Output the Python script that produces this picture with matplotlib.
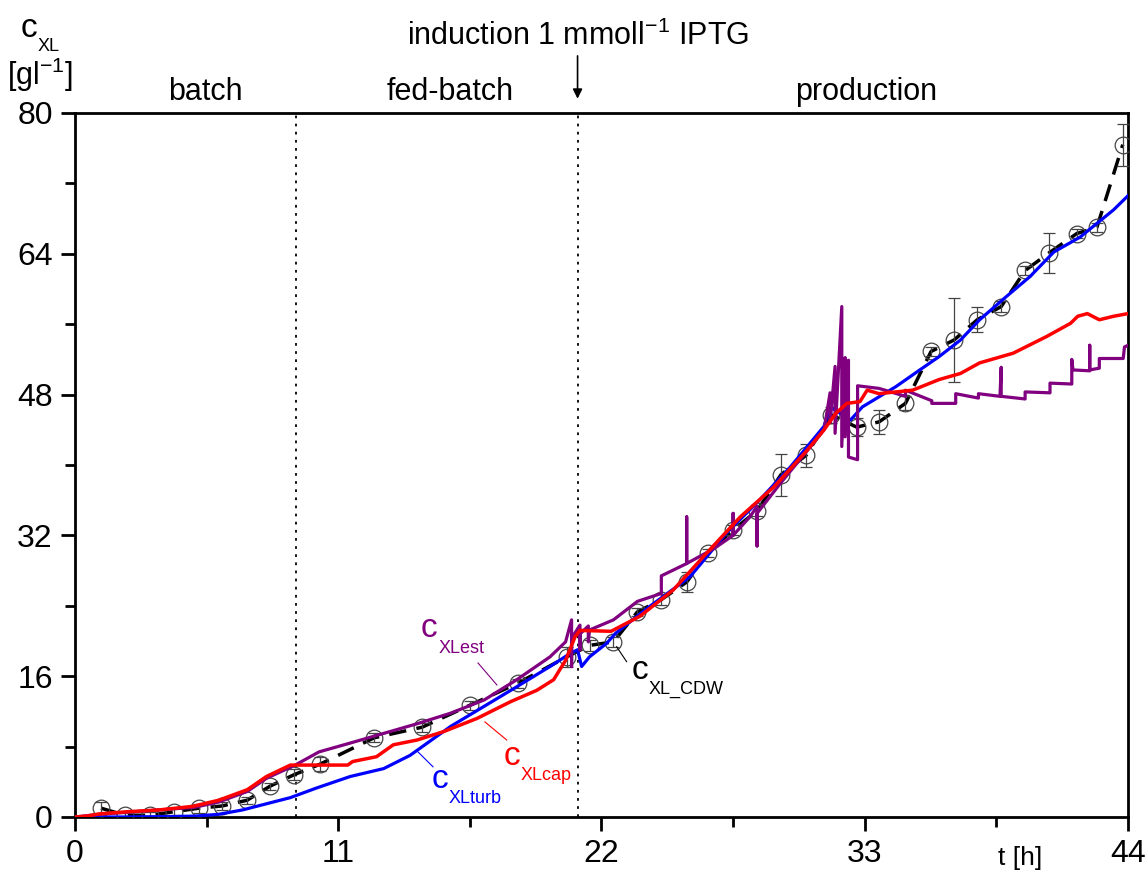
import numpy as np
import matplotlib
matplotlib.use("Agg")
import matplotlib.pyplot as plt
import matplotlib.transforms as mtransforms
from matplotlib import font_manager

names = {f.name for f in font_manager.fontManager.ttflist}
fam = "Liberation Sans Narrow" if "Liberation Sans Narrow" in names else "Liberation Sans"
plt.rcParams['font.family'] = [fam, 'DejaVu Sans']
plt.rcParams['mathtext.fontset'] = 'custom'
plt.rcParams['mathtext.rm'] = fam

# offline measured biomass (CDW) with error bars
t_cdw = [1.09, 2.09, 3.13, 4.14, 5.18, 6.14, 7.19, 8.15, 9.15, 10.24, 12.5, 14.5, 16.5, 18.5,
         20.55, 21.5, 22.5, 23.5, 24.5, 25.56, 26.45, 27.5, 28.5, 29.5, 30.55, 31.6, 32.66,
         33.6, 34.7, 35.77, 36.73, 37.7, 38.7, 39.7, 40.7, 41.86, 42.7, 43.78]
c_cdw = [1.0, 0.2, 0.2, 0.6, 1.0, 1.25, 1.9, 3.5, 4.8, 6.0, 9.0, 10.2, 12.7, 15.2,
         18.2, 19.5, 19.9, 23.3, 24.7, 26.7, 30.0, 32.6, 34.8, 38.9, 41.1, 45.7, 44.3,
         44.9, 47.0, 52.9, 54.2, 56.5, 58.0, 62.1, 64.1, 66.3, 67.0, 76.4]
err_cdw = [0.7, 0.3, 0.4, 0.4, 0.5, 0.4, 0.4, 0.4, 0.6, 0.8, 0.5, 0.5, 0.5, 0.5,
           1.1, 0.6, 0.6, 0.5, 0.6, 1.1, 0.5, 0.6, 0.6, 2.4, 1.3, 0.9, 1.0,
           1.4, 0.8, 0.5, 4.8, 1.4, 0.6, 0.5, 2.3, 0.5, 0.5, 2.4]

# turbidity based estimate
t_turb = [0, 2, 4, 5, 6, 7, 8, 9, 10.1, 11.5, 12.9, 14.0, 15.7, 17.05, 18.46, 19.85, 20.7, 21.0,
          21.17, 21.5, 22.2, 22.6, 24.0, 25.7, 27.2, 28.6, 29.9, 31.3, 31.55, 31.9, 32.4, 32.9,
          34.3, 35.3, 36.1, 37.0, 37.8, 38.9, 39.9, 40.9, 42.0, 43.4, 44.0]
c_turb = [0, 0, 0.05, 0.1, 0.3, 0.8, 1.5, 2.2, 3.3, 4.6, 5.5, 7.0, 10.3, 12.5, 14.8, 17.1, 18.6, 19.0,
          17.1, 18.2, 19.7, 20.9, 23.9, 27.3, 32.2, 36.0, 39.8, 44.4, 46.6, 46.0, 45.1, 46.6,
          48.9, 50.8, 52.3, 54.2, 56.5, 59.1, 61.4, 64.2, 65.9, 69.0, 70.6]

# capacitance based estimate
t_cap = [0, 0.5, 1.0, 2.2, 3.5, 4.9, 6.0, 7.2, 8.0, 9.0, 9.3, 11.4, 11.6, 12.6, 13.3, 14.3, 15.4,
         16.8, 18.2, 19.3, 20.0, 20.5, 20.9, 21.1, 22.4, 23.6, 25.0, 26.4, 27.8, 29.2, 30.6, 31.3,
         31.8, 32.25, 32.8, 33.1, 33.6, 35.0, 36.1, 37.0, 37.8, 39.2, 40.6, 41.6, 41.9, 42.3,
         42.8, 43.4, 44.0]
c_cap = [0, 0.1, 0.35, 0.6, 0.8, 1.2, 1.9, 3.1, 4.6, 5.9, 5.9, 5.9, 6.3, 6.85, 8.2, 8.75, 9.7,
         11.2, 13.1, 14.4, 15.6, 17.8, 20.5, 21.2, 21.1, 22.8, 25.8, 30.0, 34.1, 37.5, 41.7, 44.0,
         45.9, 47.0, 47.2, 48.5, 48.1, 48.5, 49.7, 50.4, 51.6, 52.7, 54.6, 56.1, 56.9, 57.2,
         56.5, 56.9, 57.2]

# model estimate
t_est = [0, 1, 3, 5, 6, 7.2, 8.0, 9.2, 10.2, 11.5, 12.9, 14.3, 15.7, 17.1, 18.46, 19.85, 20.5,
         20.75, 20.75, 20.75, 21.1, 21.1, 21.1, 21.45, 21.45, 21.5, 22.5, 23.5, 24.5, 24.5, 25.56,
         25.56, 25.56, 26.7, 27.5, 27.5, 27.5, 28.2, 28.5, 28.5, 28.5, 29.5, 30.5, 31.3,
         31.55, 31.55, 31.76, 31.76, 32.04, 32.04, 32.18, 32.18, 32.32, 32.32, 32.7, 32.7, 32.7,
         33.6, 34.7, 34.7, 35.8, 35.8, 36.8, 36.8, 37.75, 37.75, 38.65, 38.7, 38.7, 39.7, 39.7,
         40.74, 40.74, 41.65, 41.65, 41.7, 41.7, 42.4, 42.4, 42.4, 42.8, 42.8, 43.8, 43.85, 44.0]
c_est = [0, 0.3, 0.7, 1.1, 1.7, 2.9, 4.4, 5.9, 7.4, 8.4, 9.5, 10.6, 11.8, 13.3, 15.6, 18.2, 19.9,
         22.4, 17.1, 20.3, 21.8, 19.0, 20.8, 21.7, 19.9, 21.25, 22.4, 24.5, 25.4, 27.4, 28.8,
         34.1, 28.8, 30.5, 32.0, 34.5, 32.0, 34.1, 35.3, 30.8, 34.5, 38.0, 41.3, 44.0,
         48.2, 44.8, 51.2, 43.6, 58.0, 42.1, 52.2, 43.2, 51.9, 40.9, 40.6, 49.0, 49.0,
         48.7, 47.8, 48.5, 47.3, 47.0, 47.0, 48.1, 47.6, 48.1, 47.8, 51.1, 47.8, 47.5, 48.3,
         48.2, 49.3, 49.2, 52.0, 50.8, 50.8, 50.7, 53.6, 50.8, 51.0, 52.1, 52.1, 53.4, 53.6]

fig = plt.figure(figsize=(11.48, 8.75), dpi=100)
ax = fig.add_axes([0.0653, 0.0663, 0.9173, 0.8046])

ax.plot(t_cdw, c_cdw, color='black', lw=2.5, dashes=(5, 3), zorder=2)
ax.errorbar(t_cdw, c_cdw, yerr=err_cdw, fmt='o', ms=12, mfc='none', mec='#444444', mew=0.9,
            ecolor='#444444', elinewidth=0.9, capsize=4.5, capthick=0.9, zorder=3)
ax.plot(t_turb, c_turb, color='#0000ff', lw=2.3, zorder=4)
ax.plot(t_est, c_est, color='#800080', lw=2.3, zorder=5)
ax.plot(t_cap, c_cap, color='#ff0000', lw=2.5, zorder=6)

for xv in [9.24, 21.0]:
    ax.axvline(xv, color='black', lw=1.3, ls=(0, (1.5, 3)), zorder=1)

ax.set_xlim(0, 44)
ax.set_ylim(0, 80)
ax.set_xticks([0, 11, 22, 33, 44])
ax.set_xticks([5.5, 16.5, 27.5, 38.5], minor=True)
ax.set_yticks([0, 16, 32, 48, 64, 80])
ax.set_yticks([8, 24, 40, 56, 72], minor=True)
ax.tick_params(which='major', direction='out', length=10, width=2, labelsize=23, pad=6)
ax.tick_params(which='minor', direction='out', length=7, width=2)
for s in ax.spines.values():
    s.set_linewidth(2)


# big "c" with a smaller subscript, placed separately
def cname(x, y, sub, col, trans, csize=24, ssize=13, dx=12.5, dy=-11):
    ax.text(x, y, 'c', color=col, fontsize=csize, transform=trans, zorder=7)
    st = mtransforms.offset_copy(trans, fig=fig, x=dx, y=dy, units='points')
    ax.text(x, y, sub, color=col, fontsize=ssize, transform=st, zorder=7)


def lab(x, y, sub, col, lx, ly):
    cname(x, y, sub, col, ax.transData)
    ax.plot(lx, ly, color=col, lw=0.8, zorder=7)


lab(14.45, 20.4, 'XLest', '#800080', [16.84, 17.63], [17.5, 15.0])
lab(17.9, 5.9, 'XLcap', '#ff0000', [17.13, 18.04], [10.8, 8.75])
lab(14.9, 3.3, 'XLturb', '#0000ff', [14.33, 14.96], [7.4, 5.7])
lab(23.25, 15.7, 'XL_CDW', 'black', [22.63, 23.05], [19.35, 17.65])

# phase labels
fig.text(205 / 1148, 1 - 92 / 875, 'batch', fontsize=22, ha='center', va='center')
fig.text(450 / 1148, 1 - 92 / 875, 'fed-batch', fontsize=22, ha='center', va='center')
fig.text(866 / 1148, 1 - 92 / 875, 'production', fontsize=22, ha='center', va='center')
fig.text(578 / 1148, 1 - 36 / 875, r'induction 1 mmoll$\mathregular{^{-1}}$ IPTG', fontsize=22,
         ha='center', va='center')
ax.annotate('', xy=(21.0, 81.3), xytext=(21.0, 86.8), xycoords='data', annotation_clip=False,
            arrowprops=dict(arrowstyle='-|>', color='black', lw=1.2, mutation_scale=14))

# axis titles
cname(21 / 1148, 1 - 37 / 875, 'XL', 'black', fig.transFigure, csize=24, ssize=13, dx=12, dy=-10)
fig.text(40 / 1148, 1 - 75 / 875, r'$\mathregular{[gl^{-1}]}$', fontsize=22, ha='center', va='center')
fig.text(1020 / 1148, 1 - 858 / 875, 't [h]', fontsize=19, ha='center', va='center')

fig.savefig('out.png', dpi=100)
